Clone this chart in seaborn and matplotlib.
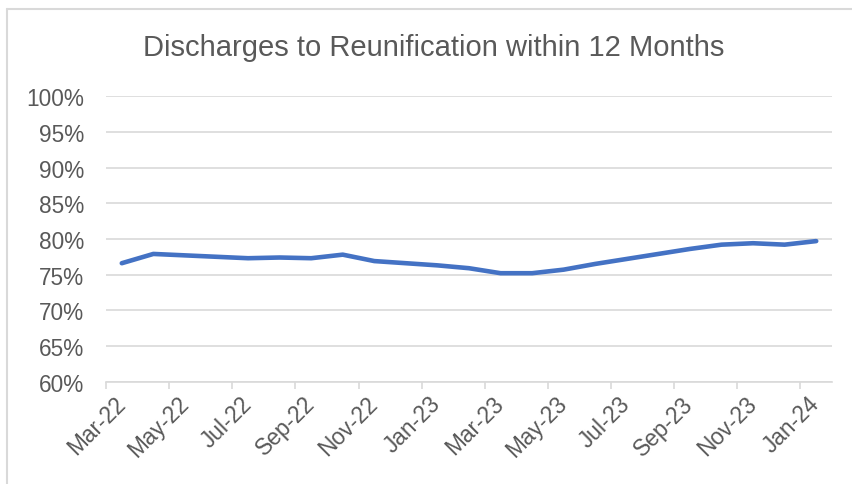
import numpy as np
import pandas as pd
import matplotlib
matplotlib.use("Agg")
import matplotlib.pyplot as plt
from matplotlib.lines import Line2D
from matplotlib.ticker import FixedLocator, PercentFormatter
import seaborn as sns

# monthly values
months = ['Mar-22', 'Apr-22', 'May-22', 'Jun-22', 'Jul-22', 'Aug-22', 'Sep-22',
          'Oct-22', 'Nov-22', 'Dec-22', 'Jan-23', 'Feb-23', 'Mar-23', 'Apr-23',
          'May-23', 'Jun-23', 'Jul-23', 'Aug-23', 'Sep-23', 'Oct-23', 'Nov-23',
          'Dec-23', 'Jan-24']
reunification = [76.6, 77.9, 77.7, 77.5, 77.3, 77.4, 77.3, 77.8, 76.9, 76.6,
                 76.3, 75.9, 75.2, 75.2, 75.7, 76.5, 77.2, 77.9, 78.6, 79.2,
                 79.4, 79.2, 79.7]

df = pd.DataFrame({'pos': np.arange(len(months)), 'month': months,
                   'value': reunification})

sns.set_theme(style='white')
plt.rcParams['font.family'] = ['Liberation Sans', 'DejaVu Sans']

grey_text = '#595959'
grid_col = '#d9d9d9'

fig = plt.figure(figsize=(8.53, 4.85), dpi=100, facecolor='white')
ax = fig.add_axes([106 / 853, 1 - 382.7 / 485, (832 - 106) / 853, (382.7 - 97.2) / 485])

sns.lineplot(data=df, x='pos', y='value', ax=ax, color='#4472C4',
             linewidth=3.3, solid_capstyle='round', solid_joinstyle='round')

ax.set_xlim(-0.5, len(months) - 0.5)
ax.set_ylim(60, 100)
ax.set_yticks(np.arange(60, 101, 5))
ax.yaxis.set_major_formatter(PercentFormatter(decimals=0))
ax.grid(axis='y', color=grid_col, linewidth=1.2)
ax.set_axisbelow(True)

# labels every second month, tick marks between the label groups
ax.set_xticks(df['pos'][::2])
ax.set_xticklabels(df['month'][::2], rotation=45, ha='right', va='center',
                   rotation_mode='anchor')
ax.xaxis.set_minor_locator(FixedLocator(np.arange(-0.5, len(months) - 1, 2)))
ax.tick_params(axis='x', which='major', length=0, pad=13, labelsize=16.3,
               labelcolor=grey_text)
ax.tick_params(axis='x', which='minor', bottom=True, length=5, width=1.2,
               color=grid_col)
ax.tick_params(axis='y', length=0, pad=16, labelsize=16.3, labelcolor=grey_text)
ax.set_xlabel('')
ax.set_ylabel('')

for side in ['top', 'right', 'left']:
    ax.spines[side].set_visible(False)
ax.spines['bottom'].set_color(grid_col)
ax.spines['bottom'].set_linewidth(1.2)

fig.text(434 / 853, 1 - 56 / 485, 'Discharges to Reunification within 12 Months',
         ha='center', va='baseline', fontsize=21, color=grey_text)

# chart border (only top and left edges are visible in the crop)
fig.add_artist(Line2D([7 / 853, 7 / 853], [0, 1 - 10 / 485], color=grid_col,
                      linewidth=1.5, transform=fig.transFigure))
fig.add_artist(Line2D([7 / 853, 1], [1 - 10 / 485, 1 - 10 / 485], color=grid_col,
                      linewidth=1.5, transform=fig.transFigure))

fig.savefig('out.png', dpi=100, facecolor='white')
